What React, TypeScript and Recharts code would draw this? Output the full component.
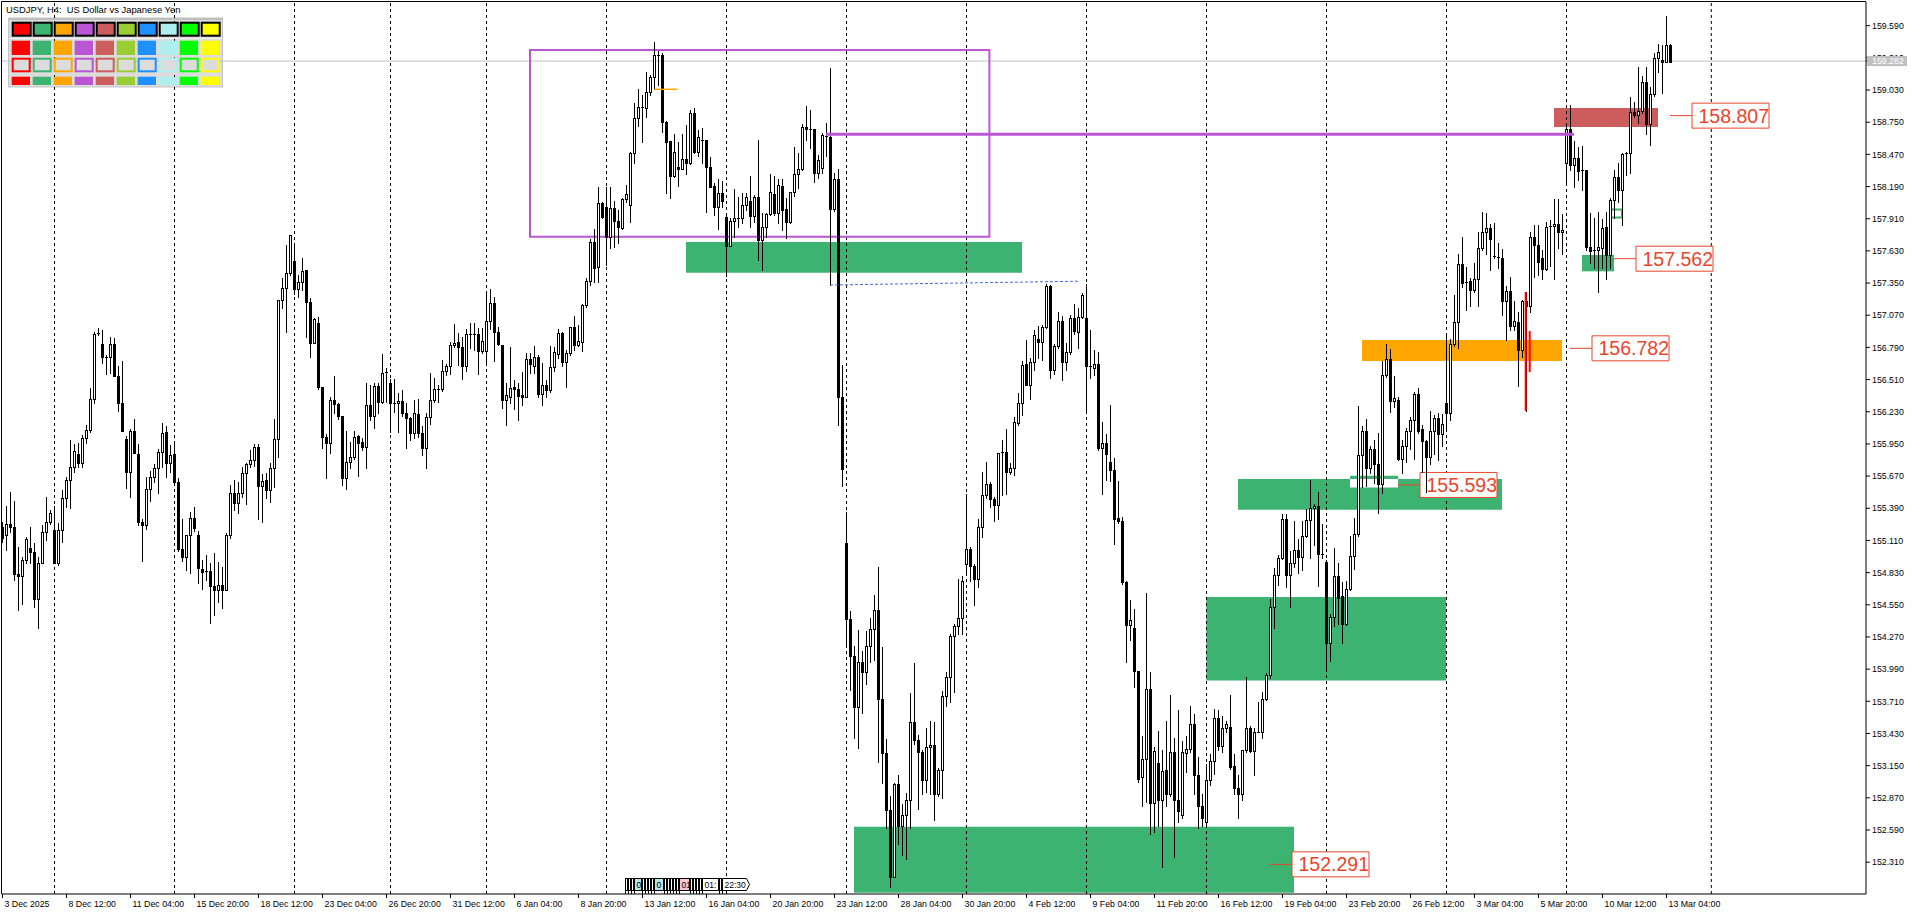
import React from 'react';
import { ComposedChart, Bar, XAxis, YAxis, ReferenceArea, ReferenceLine, ReferenceDot } from 'recharts';

// ---------- H4 candles (bar 0 = 3 Dec 2025 20:00) ----------
const opens = [
155.230,155.158,155.250,155.224,154.815,154.804,154.940,155.042,155.007,154.598,
154.911,155.187,155.274,155.201,154.917,155.201,155.477,155.636,155.752,155.859,
155.787,155.999,156.071,156.338,156.907,156.820,156.704,156.710,156.817,156.544,
156.303,155.994,155.709,156.066,155.862,155.274,155.245,155.555,155.659,155.738,
155.880,156.054,155.781,155.860,155.616,155.033,154.963,155.155,155.303,155.158,
154.861,154.838,154.844,154.714,154.679,154.722,154.679,155.158,155.526,155.433,
155.526,155.694,155.773,155.810,155.920,155.587,155.636,155.549,155.738,155.990,
157.203,157.310,157.435,157.542,157.296,157.357,157.464,157.182,156.831,157.000,
156.448,156.008,155.961,156.332,156.298,156.193,155.651,155.790,155.834,156.022,
155.964,155.926,156.289,156.193,156.454,156.318,156.564,156.483,156.309,156.306,
156.324,156.222,156.173,156.042,156.210,156.042,155.912,156.187,156.332,156.425,
156.431,156.588,156.628,156.811,156.834,156.797,156.631,156.904,156.910,156.907,
156.762,156.762,157.020,157.174,156.927,156.811,156.332,156.355,156.443,156.425,
156.376,156.361,156.686,156.630,156.710,156.382,156.460,156.419,156.617,156.733,
156.913,156.660,156.739,156.965,156.811,156.840,157.159,157.371,157.705,157.487,
158.050,158.009,157.748,158.000,157.893,157.832,158.079,158.030,158.479,158.784,
158.880,158.874,159.016,159.146,159.335,159.335,158.755,158.587,158.285,158.357,
158.343,158.427,158.392,158.827,158.494,158.597,158.592,158.363,158.195,158.015,
158.131,157.928,157.676,157.893,157.914,157.919,158.030,158.064,157.937,158.096,
157.725,157.835,157.948,158.125,157.957,158.195,157.992,157.879,158.140,158.296,
158.340,158.706,158.688,158.691,158.305,158.349,158.630,158.618,157.995,158.253,
156.361,155.086,154.422,154.107,153.663,154.055,153.967,154.195,154.341,154.502,
153.733,153.258,152.761,152.184,152.988,152.621,152.719,152.848,153.530,153.373,
153.268,153.023,153.310,153.331,152.901,153.111,153.757,153.922,154.282,154.369,
154.439,154.901,155.034,154.887,154.771,155.226,155.506,155.600,155.471,155.418,
155.873,155.876,155.709,155.744,156.128,156.303,156.642,156.467,156.667,156.862,
156.834,156.964,157.324,156.590,156.799,157.016,156.660,156.747,157.044,156.922,
157.051,157.044,156.625,156.607,156.642,155.918,155.960,155.796,155.726,155.303,
155.278,154.747,154.376,154.345,153.978,153.050,153.205,153.821,152.821,153.170,
152.855,153.110,152.901,153.268,152.848,152.719,153.261,153.296,153.513,153.065,
152.803,152.656,153.023,153.191,153.565,153.320,153.478,153.485,153.145,152.953,
152.901,153.286,153.478,153.275,153.443,153.446,153.730,153.939,154.527,154.806,
154.953,155.296,154.806,154.911,155.023,154.964,155.152,155.288,155.396,155.408,
154.988,154.926,154.219,154.445,154.802,154.627,154.383,154.686,154.977,155.163,
155.851,156.065,155.742,155.909,155.773,155.598,156.550,156.686,156.325,156.330,
155.820,155.936,156.065,156.162,156.387,156.084,155.975,155.832,156.065,156.173,
156.037,156.305,156.220,156.822,157.009,157.514,157.347,157.366,157.289,157.386,
157.658,157.794,157.832,157.588,157.580,157.568,157.191,157.281,156.978,157.009,
156.764,157.191,157.152,157.755,157.685,157.568,157.475,157.840,157.848,157.860,
157.794,158.396,158.687,158.376,158.442,158.325,158.334,157.665,157.630,157.634,
157.652,157.841,157.594,158.073,158.270,158.163,158.473,158.478,158.836,158.816,
158.850,159.103,158.731,158.996,159.309,159.290,159.278,159.425,
];

const highs = [
155.274,155.410,155.535,155.453,155.056,154.969,155.143,155.224,155.085,154.969,
155.245,155.491,155.375,155.410,155.259,155.549,155.665,155.984,155.950,155.955,
156.028,156.115,156.434,156.927,156.956,156.942,156.724,156.884,156.869,156.631,
156.672,156.019,156.077,156.164,155.950,155.294,155.665,155.717,155.775,155.909,
156.135,156.106,155.938,155.950,155.651,155.294,155.155,155.361,155.404,155.195,
154.940,154.984,154.911,154.998,154.926,154.882,155.172,155.593,155.636,155.622,
155.746,155.781,155.897,155.950,155.950,155.688,155.694,155.781,156.164,157.203,
157.391,157.681,157.768,157.681,157.420,157.565,157.464,157.217,157.043,157.058,
156.448,156.036,156.361,156.541,156.309,156.193,156.066,155.970,156.066,156.028,
155.999,156.483,156.463,156.478,156.483,156.733,156.608,156.512,156.512,156.396,
156.419,156.309,156.187,156.332,156.338,156.106,156.216,156.564,156.521,156.463,
156.681,156.646,156.840,156.994,156.913,156.878,156.947,157.000,157.000,156.956,
156.962,157.252,157.296,157.232,156.971,156.811,156.477,156.791,156.506,156.477,
156.579,156.744,156.744,156.802,156.724,156.652,156.506,156.802,156.797,156.950,
156.927,156.768,156.971,157.064,156.985,157.165,157.391,157.731,157.818,158.189,
158.059,158.189,158.189,158.064,157.986,158.088,158.204,158.494,158.914,159.036,
158.987,159.190,159.161,159.451,159.373,159.350,158.764,158.587,158.648,158.581,
158.648,158.726,158.856,158.871,158.682,158.697,158.592,158.444,158.218,158.253,
158.241,157.963,157.914,158.166,158.102,158.131,158.137,158.282,158.117,158.595,
157.963,157.963,158.299,158.282,158.253,158.253,158.088,158.146,158.531,158.485,
158.735,158.891,158.857,158.691,158.465,158.653,158.740,159.219,158.311,158.340,
156.637,155.359,154.492,154.194,154.334,154.149,154.324,154.439,154.639,154.876,
154.184,153.380,152.883,152.995,153.065,152.813,152.911,153.782,154.044,153.415,
153.286,153.478,153.541,153.530,153.128,153.799,153.967,154.299,154.387,154.771,
154.800,155.513,155.051,154.904,155.296,155.709,155.792,155.618,155.488,155.873,
155.985,156.083,155.785,156.188,156.397,156.670,156.852,156.695,156.939,156.974,
156.981,157.341,157.331,156.817,157.097,157.062,156.827,157.072,157.167,157.132,
157.265,157.342,156.939,156.771,156.747,156.142,156.037,156.293,155.828,155.628,
155.313,154.754,154.590,154.509,153.978,153.408,154.649,153.967,153.310,153.450,
153.286,153.541,153.765,153.391,153.635,153.362,153.408,153.670,153.600,153.226,
152.901,153.163,153.250,153.642,153.635,153.583,153.541,153.768,153.250,153.065,
153.286,153.925,153.495,153.478,153.705,153.792,153.957,154.604,154.869,154.981,
155.338,155.338,155.016,155.278,155.121,155.276,155.385,155.637,155.431,155.532,
155.249,154.938,154.472,155.043,154.911,154.744,154.756,155.152,155.307,156.278,
156.104,156.170,155.929,155.987,156.045,156.675,156.822,156.776,156.543,156.356,
155.987,156.092,156.181,156.403,156.434,156.115,155.987,156.240,156.201,156.220,
156.212,156.900,156.861,157.242,157.599,157.755,157.490,157.397,157.522,157.794,
157.968,157.957,157.863,157.871,157.696,157.646,157.327,157.405,157.191,157.094,
157.203,157.272,157.794,157.852,157.852,157.638,157.879,157.902,158.085,158.085,
157.949,158.718,158.901,158.590,158.537,158.540,158.337,157.957,157.918,157.968,
157.910,157.968,158.087,158.334,158.392,158.485,158.494,158.967,158.930,159.231,
159.153,159.231,159.059,159.348,159.433,159.425,159.678,159.433,
];

const lows = [
155.100,155.027,155.187,154.766,154.505,154.554,154.911,154.911,154.534,154.345,
154.911,155.114,155.253,154.911,154.896,155.099,155.404,155.390,155.709,155.746,
155.746,155.955,156.057,156.309,156.898,156.657,156.556,156.570,156.544,156.240,
156.066,155.564,155.491,155.868,155.245,154.934,155.207,155.456,155.622,155.526,
155.752,155.665,155.703,155.601,155.021,154.931,154.853,154.824,155.195,154.737,
154.688,154.766,154.389,154.461,154.577,154.519,154.679,155.129,155.375,155.346,
155.485,155.427,155.746,155.758,155.294,155.274,155.477,155.448,155.578,155.839,
157.130,156.927,157.420,157.255,157.226,157.290,156.878,156.704,156.831,156.425,
155.912,155.651,155.868,156.216,156.167,155.593,155.555,155.738,155.819,155.671,
155.897,155.743,156.158,156.086,156.222,156.309,156.318,156.057,156.231,156.051,
156.193,155.912,155.984,155.999,156.013,155.854,155.738,156.124,156.318,156.318,
156.414,156.550,156.559,156.797,156.637,156.512,156.588,156.782,156.768,156.559,
156.744,156.652,156.950,156.675,156.811,156.260,156.115,156.303,156.251,156.158,
156.289,156.361,156.565,156.565,156.361,156.289,156.361,156.405,156.588,156.695,
156.628,156.449,156.724,156.768,156.802,156.762,157.145,157.333,157.362,157.362,
157.913,157.507,157.652,157.661,157.702,157.818,158.059,157.885,158.398,158.720,
158.581,158.792,158.987,159.036,159.074,158.668,158.137,158.093,158.276,158.198,
158.340,158.296,158.386,158.485,158.456,158.392,157.972,158.189,157.943,157.818,
158.015,157.415,157.673,157.748,157.841,157.870,157.986,157.841,157.885,157.551,
157.464,157.754,157.943,157.943,157.876,157.812,157.740,157.870,158.108,158.175,
158.334,158.595,158.523,158.233,158.262,158.311,158.456,157.333,157.980,156.115,
155.584,154.188,153.810,153.390,153.303,153.607,153.862,154.055,154.072,153.181,
152.995,152.604,152.090,152.184,152.471,152.376,152.341,152.604,153.338,152.771,
152.901,152.918,152.901,152.674,152.883,152.866,153.670,153.705,153.792,154.299,
154.293,154.824,154.754,154.544,154.702,155.139,155.478,155.401,155.278,155.296,
155.506,155.513,155.688,155.681,156.118,156.205,156.467,156.345,156.590,156.695,
156.677,156.957,156.527,156.555,156.782,156.502,156.590,156.730,156.904,156.782,
157.044,156.223,156.527,156.548,155.901,155.513,155.639,155.628,155.079,155.261,
154.729,154.048,154.247,153.834,153.006,152.796,152.831,152.551,152.569,152.621,
152.265,152.796,152.890,152.359,152.656,152.691,153.093,153.268,152.901,152.604,
152.621,152.646,152.981,153.076,153.286,153.268,153.443,153.118,152.901,152.691,
152.848,153.268,153.268,153.065,153.443,153.391,153.723,153.915,154.345,154.719,
154.946,154.702,154.534,154.883,154.824,154.849,155.144,154.957,155.074,154.717,
154.957,153.986,154.064,154.367,154.383,154.219,154.375,154.680,154.860,155.152,
155.579,155.587,155.696,155.610,155.346,155.521,156.531,156.232,156.271,155.812,
155.696,155.793,155.909,155.820,156.045,155.703,155.532,155.773,155.859,155.812,
155.929,156.065,156.162,156.803,156.783,157.320,157.114,157.153,157.269,157.153,
157.638,157.599,157.463,157.568,157.483,157.075,156.853,156.939,156.939,156.453,
156.706,156.237,157.094,157.405,157.424,157.386,157.463,157.502,157.386,157.658,
157.599,158.202,158.337,158.190,158.247,158.160,157.638,157.522,157.483,157.269,
157.483,157.386,157.483,157.913,158.058,157.855,158.291,158.305,158.798,158.740,
158.830,158.648,158.551,158.980,159.190,159.000,159.270,159.270,
];

const closes = [
155.129,155.250,155.224,154.815,154.804,154.940,155.120,155.007,154.598,154.911,
155.187,155.274,155.346,154.917,155.201,155.477,155.636,155.752,155.889,155.787,
155.999,156.071,156.338,156.907,156.913,156.704,156.710,156.817,156.544,156.303,
156.066,155.709,156.066,155.868,155.274,155.245,155.555,155.659,155.738,155.880,
156.042,155.781,155.851,155.616,155.033,154.963,155.155,155.303,155.216,154.867,
154.838,154.844,154.714,154.679,154.722,154.679,155.158,155.526,155.433,155.526,
155.694,155.773,155.810,155.926,155.587,155.630,155.549,155.738,155.990,157.203,
157.310,157.435,157.768,157.296,157.357,157.455,157.182,156.831,157.034,156.448,
156.008,155.961,156.332,156.298,156.193,155.651,155.790,155.834,156.008,155.961,
155.926,156.289,156.193,156.454,156.318,156.564,156.573,156.309,156.306,156.324,
156.222,156.173,156.042,156.216,156.042,155.912,156.187,156.332,156.425,156.431,
156.588,156.628,156.811,156.826,156.797,156.631,156.904,156.910,156.907,156.762,
156.846,157.020,157.174,156.927,156.820,156.332,156.376,156.440,156.425,156.370,
156.361,156.686,156.643,156.710,156.382,156.460,156.419,156.617,156.753,156.913,
156.660,156.739,156.965,156.811,156.849,157.159,157.371,157.705,157.478,158.044,
157.922,157.748,158.000,157.893,157.835,158.079,158.125,158.479,158.784,158.880,
158.877,159.016,159.146,159.335,159.329,158.755,158.581,158.285,158.494,158.343,
158.427,158.392,158.827,158.494,158.618,158.592,158.363,158.189,158.015,158.131,
158.067,157.676,157.893,157.914,157.919,158.030,158.102,157.937,158.096,157.725,
157.835,157.948,158.146,157.957,158.201,157.986,157.879,158.140,158.296,158.340,
158.706,158.688,158.691,158.305,158.421,158.639,158.618,157.995,158.253,156.361,
155.729,154.422,154.107,153.663,154.055,153.967,154.195,154.341,154.502,153.733,
153.258,152.761,152.184,152.988,152.621,152.719,152.848,153.530,153.373,153.268,
153.023,153.310,153.331,152.901,153.111,153.757,153.922,154.282,154.369,154.439,
154.761,155.034,154.887,154.771,155.226,155.506,155.600,155.471,155.418,155.873,
155.876,155.709,155.744,156.142,156.303,156.635,156.467,156.667,156.897,156.834,
156.964,157.324,156.590,156.799,157.016,156.660,156.747,157.044,156.929,157.051,
157.247,156.625,156.618,156.642,155.918,155.960,155.866,155.726,155.296,155.278,
154.747,154.376,154.415,153.978,153.034,153.205,153.821,152.821,153.275,152.855,
153.100,152.901,153.268,152.848,152.751,153.268,153.296,153.513,153.065,152.803,
152.691,153.023,153.191,153.565,153.320,153.478,153.513,153.135,152.953,152.901,
153.286,153.478,153.275,153.443,153.446,153.730,153.939,154.527,154.806,154.953,
155.296,154.806,154.911,155.023,154.964,155.152,155.288,155.396,155.408,154.988,
154.996,154.219,154.445,154.802,154.608,154.383,154.686,154.977,155.163,155.851,
156.065,155.742,155.909,155.773,155.598,156.550,156.686,156.325,156.348,155.820,
155.936,156.065,156.162,156.387,156.065,155.975,155.832,156.065,156.173,156.037,
156.123,156.220,156.822,157.009,157.514,157.347,157.355,157.289,157.386,157.658,
157.794,157.832,157.735,157.580,157.572,157.191,157.281,156.978,157.017,156.764,
157.191,157.152,157.755,157.677,157.529,157.475,157.840,157.848,157.860,157.794,
157.813,158.687,158.376,158.442,158.325,158.330,157.665,157.630,157.634,157.665,
157.826,157.594,158.073,158.270,158.163,158.473,158.478,158.836,158.816,158.850,
159.103,158.731,158.996,159.309,159.360,159.278,159.425,159.278,
];

// ---------- axes ----------
const timeLabels = [
  '3 Dec 2025', '8 Dec 12:00', '11 Dec 04:00', '15 Dec 20:00', '18 Dec 12:00', '23 Dec 04:00',
  '26 Dec 20:00', '31 Dec 12:00', '6 Jan 04:00', '8 Jan 20:00', '13 Jan 12:00', '16 Jan 04:00',
  '20 Jan 20:00', '23 Jan 12:00', '28 Jan 04:00', '30 Jan 20:00', '4 Feb 12:00', '9 Feb 04:00',
  '11 Feb 20:00', '16 Feb 12:00', '19 Feb 04:00', '23 Feb 20:00', '26 Feb 12:00', '3 Mar 04:00',
  '5 Mar 20:00', '10 Mar 12:00', '13 Mar 04:00',
];
const barsPerTimeLabel = 16;
const priceTicks = [
  152.31, 152.59, 152.87, 153.15, 153.43, 153.71, 153.99, 154.27, 154.55, 154.83, 155.11, 155.39,
  155.67, 155.95, 156.23, 156.51, 156.79, 157.07, 157.35, 157.63, 157.91, 158.19, 158.47, 158.75,
  159.03, 159.31, 159.59,
];
const bidPrice = 159.282;
const weekSeparators = [13, 43, 73, 97, 121, 151, 181, 211, 241, 271, 301, 331, 361, 391, 427.2];

// ---------- objects drawn on the chart (bar index, price) ----------
const zoneBars = [
  { kind: 'green', x1: 170.875, x2: 254.875, y1: 157.440, y2: 157.707 },
  { kind: 'green', x1: 212.875, x2: 322.875, y1: 152.044, y2: 152.618 },
  { kind: 'green', x1: 300.95, x2: 360.875, y1: 153.890, y2: 154.618 },
  { kind: 'green', x1: 308.875, x2: 374.875, y1: 155.377, y2: 155.645 },
  { kind: 'green', x1: 336.875, x2: 348.875, y1: 155.645, y2: 155.672 },
  { kind: 'white', x1: 336.875, x2: 348.875, y1: 155.571, y2: 155.645 },
  { kind: 'orange', x1: 339.875, x2: 389.875, y1: 156.672, y2: 156.855 },
  { kind: 'red', x1: 387.875, x2: 413.875, y1: 158.708, y2: 158.874 },
  { kind: 'green', x1: 394.875, x2: 402.875, y1: 157.452, y2: 157.595 },
];
const rangeBox = { x1: 131.875, x2: 246.725, y1: 157.754, y2: 159.379 };
const smallBox = { x1: 401.875, x2: 404.875, y1: 157.920, y2: 157.990 };
const levelLine = { x1: 205.875, x2: 392.875, y: 158.645 };
const dashedLine = { x1: 206.875, y1: 157.333, x2: 269.125, y2: 157.366 };
const shortLine = { x1: 162.95, x2: 168.8, y: 159.036 };
const redMarks = [
  { x: 380.8, y1: 157.272, y2: 156.237 },
  { x: 381.8, y1: 156.933, y2: 156.576 },
];
const tagValues = ['152.291', '155.593', '156.782', '157.562', '158.807'];
const tagAnchors = [316.875, 348.875, 391.875, 402.875, 416.875];

// ---------- styling ----------
const FONT = '"Liberation Sans", Arial, sans-serif';
const ZONE_COLORS: Record<string, string> = {
  green: '#3CB371', orange: '#FFA500', red: '#CD5C5C', white: '#FFFFFF',
};
const ORCHID = '#BA55D3';
const TAG_COLOR = '#E8452C';
const X_DOMAIN: [number, number] = [-0.125, 465.875];
const Y_DOMAIN: [number, number] = [152.033, 159.796];
const PX_PER_BAR = 4;
const PX_PER_YEN = 114.9;
const TAG_GAP = 22 / PX_PER_BAR;
const TAG_W = 77 / PX_PER_BAR;
const TAG_HALF_H = 12.5 / PX_PER_YEN;

const n = Math.min(opens.length, highs.length, lows.length, closes.length);
const candles = Array.from({ length: n }, (_, i) => ({
  i, o: opens[i], h: highs[i], l: lows[i], c: closes[i],
}));
const xTicks = timeLabels.map((_, k) => k * barsPerTimeLabel);

const Candle = (p: any) => {
  const { x, y, width, height, payload } = p;
  if (payload == null || x == null || y == null) return null;
  const { o, h, l, c } = payload;
  const yTop = Math.min(y, y + height);
  const yBot = Math.max(y, y + height);
  const span = h - l;
  const toY = (v: number) => (span > 0 ? yTop + ((h - v) / span) * (yBot - yTop) : yTop);
  const cx = Math.floor(x + width / 2) + 0.5;
  const bt = Math.round(toY(Math.max(o, c)));
  const bb = Math.round(toY(Math.min(o, c)));
  const up = c >= o;
  return (
    <g>
      <line x1={cx} x2={cx} y1={Math.round(yTop)} y2={Math.round(yBot) + 1} stroke="#000" strokeWidth={1} />
      {bb - bt < 2 ? (
        <line x1={cx - 1.5} x2={cx + 1.5} y1={bt + 0.5} y2={bt + 0.5} stroke="#000" strokeWidth={1} />
      ) : (
        <rect x={cx - 1} y={bt + 0.5} width={2} height={bb - bt} fill={up ? '#fff' : '#000'} stroke="#000" strokeWidth={1} />
      )}
    </g>
  );
};

const XTick = (p: any) => {
  const { x, y, payload } = p;
  const k = Math.round(payload.value / barsPerTimeLabel);
  return (
    <text x={x + 2} y={y + 7} fontSize={8.8} fontFamily={FONT} fill="#000" textAnchor="start">
      {timeLabels[k]}
    </text>
  );
};

const YTick = (p: any) => {
  const { x, y, payload } = p;
  const v = payload.value as number;
  if (Math.abs(v - bidPrice) < 1e-6) {
    return (
      <g>
        <rect x={x - 5} y={y - 5} width={40} height={10} fill="#C0C0C0" />
        <text x={x} y={y + 3.2} fontSize={8.8} fontFamily={FONT} fill="#fff" textAnchor="start">{v.toFixed(3)}</text>
      </g>
    );
  }
  return (
    <text x={x} y={y + 3.2} fontSize={8.8} fontFamily={FONT} fill="#000" textAnchor="start">{v.toFixed(3)}</text>
  );
};

const paletteColors = ['#FF0000', '#3CB371', '#FFA500', '#BA55D3', '#CD5C5C', '#9ACD32', '#1E90FF', '#AFEEEE', '#00FF00', '#FFFF00'];

const calendarMarks = [
  { x: 625.5, w: 2 }, { x: 628.5, w: 2 }, { x: 631.5, w: 2 },
  { x: 634.5, w: 7, fill: '#B4E6EE', t: '0' },
  { x: 642.5, w: 2 }, { x: 645.5, w: 2 }, { x: 648.5, w: 2 }, { x: 651.5, w: 2 },
  { x: 654.5, w: 9, fill: '#B4E6EE', t: '0' },
  { x: 664.5, w: 2 }, { x: 667.5, w: 2 }, { x: 670.5, w: 2 }, { x: 673.5, w: 2 }, { x: 676.5, w: 2 },
  { x: 679.5, w: 10, fill: '#F8C8D0', t: '01' },
  { x: 690.5, w: 2 }, { x: 693.5, w: 2 }, { x: 696.5, w: 2 }, { x: 699.5, w: 2 },
  { x: 702.5, w: 16, fill: '#FFFFFF', t: '01:' },
  { x: 719.5, w: 2 },
  { x: 722.5, w: 24, fill: '#FFFFFF', t: '22:30', arrow: true },
];

export default function App() {
  return (
    <div style={{ position: 'absolute', left: 0, top: 0, width: 1920, height: 915, background: '#fff', overflow: 'hidden' }}>
      {/* panel background (behind chart grid) */}
      <svg width={1920} height={915} style={{ position: 'absolute', left: 0, top: 0 }}>
        <rect x={8.5} y={18} width={214} height={69} fill="#DCDCDC" stroke="#C4C4C4" strokeWidth={1} />
        <rect x={8.5} y={18} width={214} height={2} fill="#BEBEBE" />
        <line x1={9} x2={222} y1={38.5} y2={38.5} stroke="#F2F2F2" strokeWidth={1} />
      </svg>

      <div style={{ position: 'absolute', left: 0, top: 0 }}>
        <ComposedChart width={1920} height={915} data={candles} margin={{ top: 2, right: 0, bottom: 0, left: 2 }}>
          <XAxis
            type="number" dataKey="i" scale="linear" domain={X_DOMAIN} allowDataOverflow
            ticks={xTicks} interval={0} height={21} tick={<XTick />}
            tickSize={4} tickMargin={2} axisLine={{ stroke: '#000' }} tickLine={{ stroke: '#000' }}
          />
          <YAxis
            orientation="right" type="number" domain={Y_DOMAIN} allowDataOverflow
            ticks={[...priceTicks, bidPrice]} interval={0} width={54} tick={<YTick />}
            tickSize={4} tickMargin={2} axisLine={{ stroke: '#000' }} tickLine={{ stroke: '#000' }}
          />

          {zoneBars.map((z, k) => (
            <ReferenceArea key={'z' + k} x1={z.x1} x2={z.x2} y1={z.y1} y2={z.y2}
              fill={ZONE_COLORS[z.kind]} fillOpacity={1} stroke="none" ifOverflow="hidden" zIndex={100} />
          ))}

          <ReferenceLine y={bidPrice} stroke="#C0C0C0" strokeWidth={1} ifOverflow="hidden" zIndex={150} />
          {weekSeparators.map((w) => (
            <ReferenceLine key={'w' + w} x={w} stroke="#000" strokeWidth={1} strokeDasharray="3 3" ifOverflow="hidden" zIndex={150} />
          ))}

          <ReferenceArea x1={rangeBox.x1} x2={rangeBox.x2} y1={rangeBox.y1} y2={rangeBox.y2}
            fill="none" fillOpacity={0} stroke={ORCHID} strokeWidth={2} ifOverflow="hidden" zIndex={160} />
          <ReferenceArea x1={smallBox.x1} x2={smallBox.x2} y1={smallBox.y1} y2={smallBox.y2}
            fill="none" fillOpacity={0} stroke="#3CB371" strokeWidth={2} ifOverflow="hidden" zIndex={160} />

          {tagValues.map((t, k) => {
            const price = Number(t);
            const left = tagAnchors[k] + TAG_GAP;
            return (
              <ReferenceArea key={'tb' + k} x1={left} x2={left + TAG_W} y1={price - TAG_HALF_H} y2={price + TAG_HALF_H}
                fill="#fff" fillOpacity={1} stroke={TAG_COLOR} strokeWidth={1} ifOverflow="hidden" zIndex={170} />
            );
          })}

          <Bar dataKey={(d: any) => [d.l, d.h]} barSize={2} shape={(p: any) => <Candle {...p} />} isAnimationActive={false} zIndex={300} />

          {tagValues.map((t, k) => {
            const price = Number(t);
            return (
              <ReferenceLine key={'tl' + k} segment={[{ x: tagAnchors[k], y: price }, { x: tagAnchors[k] + TAG_GAP, y: price }]}
                stroke={TAG_COLOR} strokeWidth={1} ifOverflow="hidden" zIndex={400} />
            );
          })}
          <ReferenceLine segment={[{ x: levelLine.x1, y: levelLine.y }, { x: levelLine.x2, y: levelLine.y }]}
            stroke={ORCHID} strokeWidth={3} ifOverflow="hidden" zIndex={400} />
          <ReferenceLine segment={[{ x: dashedLine.x1, y: dashedLine.y1 }, { x: dashedLine.x2, y: dashedLine.y2 }]}
            stroke="#4169E1" strokeWidth={1} strokeDasharray="3 2" ifOverflow="hidden" zIndex={400} />
          <ReferenceLine segment={[{ x: shortLine.x1, y: shortLine.y }, { x: shortLine.x2, y: shortLine.y }]}
            stroke="#FFA500" strokeWidth={1.5} ifOverflow="hidden" zIndex={400} />
          {redMarks.map((r, k) => (
            <ReferenceLine key={'r' + k} segment={[{ x: r.x, y: r.y1 }, { x: r.x, y: r.y2 }]}
              stroke="#FF0000" strokeWidth={2} ifOverflow="hidden" zIndex={410} />
          ))}

          {tagValues.map((t, k) => (
            <ReferenceDot key={'tt' + k} x={tagAnchors[k] + TAG_GAP} y={Number(t)} r={0} ifOverflow="hidden" zIndex={600}
              shape={(p: any) => (
                <text x={p.cx + 6.5} y={p.cy + 7} fontSize={19.5} fontFamily={FONT} fill={TAG_COLOR} textAnchor="start">{t}</text>
              )}
            />
          ))}
        </ComposedChart>
      </div>

      {/* foreground decorations: frame, title, colour palette, calendar markers */}
      <svg width={1920} height={915} style={{ position: 'absolute', left: 0, top: 0, pointerEvents: 'none' }}>
        <line x1={1.5} x2={1866} y1={1.5} y2={1.5} stroke="#000" strokeWidth={1} />
        <line x1={1.5} x2={1.5} y1={1.5} y2={894} stroke="#000" strokeWidth={1} />
        <text x={6} y={13} fontSize={9.4} fontFamily={FONT} fill="#000">{'USDJPY, H4:\u00a0 US Dollar vs Japanese Yen'}</text>
        {paletteColors.map((col, k) => {
          const x0 = 11.7 + 21 * k;
          return (
            <g key={'p' + k}>
              <rect x={x0 + 1} y={22.7} width={18} height={13} fill={col} stroke="#000" strokeWidth={2} />
              <rect x={x0} y={40.7} width={18.3} height={14.3} fill={col} />
              <rect x={x0 + 1} y={58.7} width={17} height={12.6} fill="#DCDCDC" stroke={col} strokeWidth={2} />
              <rect x={x0} y={76.7} width={18.3} height={8.3} fill={col} />
            </g>
          );
        })}
        {calendarMarks.map((m, k) => (
          <g key={'c' + k}>
            {m.arrow ? (
              <path d={`M${m.x},878.5 H${m.x + m.w} L${m.x + m.w + 3},884.5 L${m.x + m.w},890.5 H${m.x} Z`} fill={m.fill} stroke="#000" strokeWidth={1} />
            ) : (
              <rect x={m.x} y={878.5} width={m.w} height={12} fill={m.fill || '#fff'} stroke="#000" strokeWidth={1} />
            )}
            <line x1={m.x} x2={m.x} y1={890.5} y2={894} stroke="#000" strokeWidth={1} />
            {m.t ? (
              <text x={m.x + 2} y={888} fontSize={8.5} fontFamily={FONT} fill="#000">{m.t}</text>
            ) : null}
          </g>
        ))}
      </svg>
    </div>
  );
}
